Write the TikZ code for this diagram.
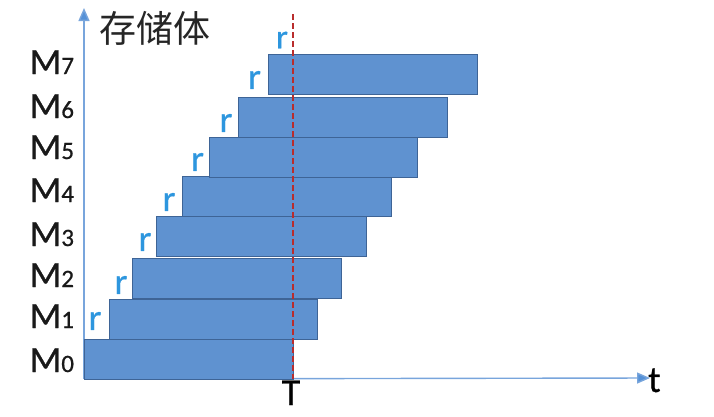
\documentclass[tikz,border=0pt]{standalone}
\usepackage{fontspec}
\setmainfont{Carlito}
\newfontfamily\heavy{Carlito}[FakeBold=0.7]
\newfontfamily\cjkfont{Noto Sans CJK SC}
\usetikzlibrary{arrows.meta}
\definecolor{barfill}{RGB}{95,146,208}
\definecolor{barline}{RGB}{62,100,150}
\definecolor{rblue}{RGB}{45,150,222}
\definecolor{axisblue}{RGB}{120,165,220}
\definecolor{tipblue}{RGB}{85,145,215}
\definecolor{dashred}{RGB}{185,45,45}
\tikzset{
  bar/.style={draw=barline, line width=0.9pt, fill=barfill, inner sep=0pt, anchor=north west, minimum height=40pt},
  rlab/.style={text=rblue, inner sep=0pt},
  mlab/.style={inner sep=0pt, anchor=base west, text=black!90},
  axisline/.style={draw=axisblue, line width=1.4pt, -{Triangle[length=13pt,width=11pt,fill=tipblue]}},
  dashline/.style={draw=dashred, line width=1.1pt, dash pattern=on 6pt off 3pt}
}
\newcommand{\mlabel}[1]{{\heavy\fontsize{37}{37}\selectfont M}{\heavy\fontsize{25}{25}\selectfont #1}}
\newcommand{\rtext}{{\heavy\fontsize{37}{37}\selectfont r}}
\begin{document}
\begin{tikzpicture}[x=1pt,y=-1pt]
\useasboundingbox (0,0) rectangle (714,416);
% axes
\coordinate (O) at (84,379);
\coordinate (ytip) at (84,8);
\coordinate (xtip) at (650,378);
\draw[axisline] (O) -- (ytip);
\draw[axisline] (O) -- (xtip);
% bars
\node[bar, minimum width=209pt] (b0) at (84,339) {};
\node[bar, minimum width=208pt] (b1) at (109,298.5) {};
\node[bar, minimum width=209pt] (b2) at (132,257.5) {};
\node[bar, minimum width=210pt] (b3) at (156,216) {};
\node[bar, minimum width=209pt] (b4) at (182,176) {};
\node[bar, minimum width=208pt] (b5) at (209,136.5) {};
\node[bar, minimum width=209pt] (b6) at (238,96.5) {};
\node[bar, minimum width=209pt] (b7) at (268,54) {};
% dashed line
\coordinate (dtop) at (293,14);
\coordinate (dbot) at (293,379);
\draw[dashline] (dtop) -- (dbot);
% r labels
\node[rlab] (r1) at (95,321) {\rtext};
\node[rlab] (r2) at (121,285) {\rtext};
\node[rlab] (r3) at (145,242) {\rtext};
\node[rlab] (r4) at (169,202) {\rtext};
\node[rlab] (r5) at (197.5,162) {\rtext};
\node[rlab] (r6) at (226,123) {\rtext};
\node[rlab] (r7) at (254.5,80) {\rtext};
\node[rlab] (r8) at (282,40) {{\heavy\fontsize{34}{34}\selectfont r}};
% M labels
\node[mlab] (m0) at (29.5,372) {\mlabel{0}};
\node[mlab] (m1) at (29.5,328) {\mlabel{1}};
\node[mlab] (m2) at (29.5,287) {\mlabel{2}};
\node[mlab] (m3) at (29.5,246) {\mlabel{3}};
\node[mlab] (m4) at (29.5,202) {\mlabel{4}};
\node[mlab] (m5) at (29.5,159) {\mlabel{5}};
\node[mlab] (m6) at (29.5,118) {\mlabel{6}};
\node[mlab] (m7) at (29.5,74) {\mlabel{7}};
% axis labels
\node[inner sep=0pt, anchor=base] (Tlab) at (291,405) {{\heavy\fontsize{38}{38}\selectfont T}};
\node[inner sep=0pt, anchor=base west] (tlab) at (648,392) {{\heavy\fontsize{37}{37}\selectfont t}};
\node[inner sep=0pt, text=black!85] (title) at (155,28) {{\cjkfont\fontsize{37}{37}\selectfont 存储体}};
\end{tikzpicture}
\end{document}
